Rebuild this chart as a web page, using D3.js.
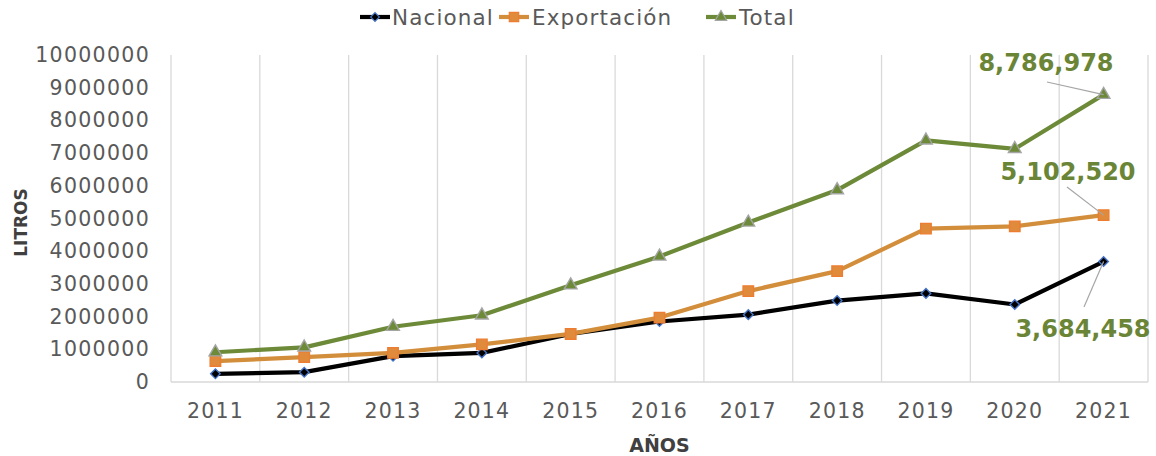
<!DOCTYPE html>
<html>
  <head>
    <meta charset="utf-8" />
    <style>
      body { margin: 0; background: #fff; }
      svg text { font-family: "DejaVu Sans", sans-serif; }
    </style>
  </head>
  <body>

<svg id="graph"></svg>

<script src="https://d3js.org/d3.v7.min.js"></script>
<script>
  const WIDTH = 1156;
  const HEIGHT = 456;

  // datos
  const YEARS = ['2011', '2012', '2013', '2014', '2015', '2016', '2017', '2018', '2019', '2020', '2021'];
  const NACIONAL = [250000, 300000, 790000, 890000, 1470000, 1850000, 2060000, 2490000, 2710000, 2370000, 3684458];
  const EXPORTACION = [640000, 760000, 890000, 1150000, 1470000, 1970000, 2780000, 3390000, 4690000, 4760000, 5102520];
  const TOTAL = [910000, 1060000, 1690000, 2040000, 2960000, 3840000, 4880000, 5870000, 7390000, 7130000, 8786978];
  const Y_TICKS = [0, 1000000, 2000000, 3000000, 4000000, 5000000, 6000000, 7000000, 8000000, 9000000, 10000000];
  const SERIES_NAMES = ['Nacional', 'Exportación', 'Total'];

  const M = { left: 171, right: 8, top: 55, bottom: 74 };
  const svg = d3.select('#graph').attr('width', WIDTH).attr('height', HEIGHT);

  const x = d3.scaleBand().domain(YEARS).range([M.left, WIDTH - M.right]);
  const y = d3.scaleLinear().domain([0, 10000000]).range([HEIGHT - M.bottom, M.top]);
  const cx = d => x(d) + x.bandwidth() / 2;

  // lineas verticales de la cuadricula
  const gridX = YEARS.map(d => x(d)).concat([x.range()[1]]);
  svg.selectAll('line.grid')
    .data(gridX)
    .enter()
    .append('line')
    .attr('x1', d => d).attr('x2', d => d)
    .attr('y1', y(10000000)).attr('y2', y(0))
    .attr('stroke', '#d9d9d9').attr('stroke-width', 1.3);

  svg.append('line')
    .attr('x1', x.range()[0]).attr('x2', x.range()[1])
    .attr('y1', y(0)).attr('y2', y(0))
    .attr('stroke', '#d9d9d9').attr('stroke-width', 1.3);

  // eje y
  const yAxis = svg.append('g')
    .attr('transform', `translate(${M.left - 21},0)`)
    .call(d3.axisLeft(y).tickValues(Y_TICKS).tickFormat(d3.format('d')).tickSize(0).tickPadding(0));
  yAxis.select('.domain').remove();
  yAxis.selectAll('text')
    .attr('fill', '#595959').style('font-size', '20.5px').style('letter-spacing', '1.3px');

  // eje x
  const xAxis = svg.append('g')
    .attr('transform', `translate(0,${y(0)})`)
    .call(d3.axisBottom(x).tickSize(0).tickPadding(21));
  xAxis.select('.domain').remove();
  xAxis.selectAll('text')
    .attr('fill', '#595959').style('font-size', '20.5px').style('letter-spacing', '1.2px');

  svg.append('text')
    .attr('transform', `translate(27,${(y(0) + y(10000000)) / 2 + 4}) rotate(-90)`)
    .attr('text-anchor', 'middle')
    .attr('fill', '#404040').style('font-size', '17px').style('font-weight', 'bold')
    .text('LITROS');

  svg.append('text')
    .attr('x', (x.range()[0] + x.range()[1]) / 2).attr('y', 452)
    .attr('text-anchor', 'middle')
    .attr('fill', '#404040').style('font-size', '19px').style('font-weight', 'bold')
    .text('AÑOS');

  const STYLES = [
    { line: '#000000', fill: '#000000', stroke: '#4472c4', sym: d3.symbolSquare, size: 46, rot: 45 },
    { line: '#d38e3c', fill: '#e08a3c', stroke: '#ed7d31', sym: d3.symbolSquare, size: 110, rot: 0 },
    { line: '#6c8a38', fill: '#6c8a38', stroke: '#a5a5a5', sym: d3.symbolTriangle, size: 70, rot: 0 }
  ];
  const DATA = [NACIONAL, EXPORTACION, TOTAL];

  const line = d3.line().x((d, i) => cx(YEARS[i])).y(d => y(d));

  DATA.forEach((vals, k) => {
    const s = STYLES[k];
    svg.append('path')
      .attr('d', line(vals))
      .attr('fill', 'none').attr('stroke', s.line)
      .attr('stroke-width', 4.2).attr('stroke-linejoin', 'round');
    svg.selectAll(null)
      .data(vals)
      .enter()
      .append('path')
      .attr('d', d3.symbol().type(s.sym).size(s.size))
      .attr('transform', (d, i) => `translate(${cx(YEARS[i])},${y(d)}) rotate(${s.rot})`)
      .attr('fill', s.fill).attr('stroke', s.stroke).attr('stroke-width', 1.4);
  });

  // etiquetas de 2021
  const last = YEARS.length - 1;
  const fmt = d3.format(',');
  const LABELS = [
    { v: NACIONAL[last], tx: 1083, ty: 337, lx: 1084, ly: 307 },
    { v: EXPORTACION[last], tx: 1068, ty: 180, lx: 1067, ly: 187 },
    { v: TOTAL[last], tx: 1046, ty: 71, lx: 1047, ly: 82 }
  ];
  LABELS.forEach(l => {
    svg.append('line')
      .attr('x1', l.lx).attr('y1', l.ly)
      .attr('x2', cx(YEARS[last])).attr('y2', y(l.v))
      .attr('stroke', '#a6a6a6').attr('stroke-width', 1.2);
    svg.append('text')
      .attr('x', l.tx).attr('y', l.ty)
      .attr('text-anchor', 'middle')
      .attr('fill', '#6b8537').style('font-size', '24px').style('font-weight', 'bold')
      .text(fmt(l.v));
  });

  // leyenda
  const LEG = [
    { x: 360, tx: 392 },
    { x: 499, tx: 532 },
    { x: 706, tx: 739 }
  ];
  SERIES_NAMES.forEach((name, k) => {
    const s = STYLES[k];
    const g = svg.append('g');
    g.append('line')
      .attr('x1', LEG[k].x).attr('x2', LEG[k].x + 30)
      .attr('y1', 17).attr('y2', 17)
      .attr('stroke', s.line).attr('stroke-width', 4.2);
    g.append('path')
      .attr('d', d3.symbol().type(s.sym).size(s.size * 0.8))
      .attr('transform', `translate(${LEG[k].x + 15},17) rotate(${s.rot})`)
      .attr('fill', s.fill).attr('stroke', s.stroke).attr('stroke-width', 1.2);
    g.append('text')
      .attr('x', LEG[k].tx).attr('y', 25)
      .attr('fill', '#595959').style('font-size', '21.5px').style('letter-spacing', '1.1px')
      .text(name);
  });

</script>
  </body>
</html>
